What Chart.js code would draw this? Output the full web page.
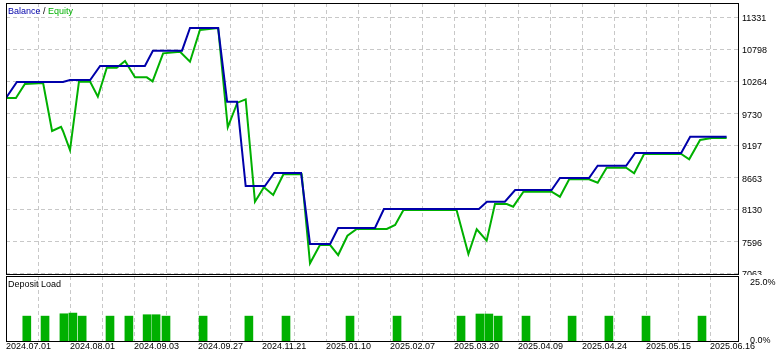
<!DOCTYPE html>
<html>
<head>
<meta charset="utf-8">
<script src="https://cdn.jsdelivr.net/npm/chart.js@4.4.1/dist/chart.umd.min.js"></script>
<style>
  body { margin: 0; background: #fff; }
  #wrap { position: relative; width: 780px; height: 358px; }
  #mainBox { position: absolute; left: 0; top: 0; }
  #loadBox { position: absolute; left: 0; top: 275px; }
</style>
</head>
<body>
<div id="wrap">
  <div id="mainBox"><canvas id="mainChart" width="780" height="275"></canvas></div>
  <div id="loadBox"><canvas id="loadChart" width="780" height="83"></canvas></div>
</div>
<script>
// x = deal position along the test (10 units per grid cell)
const dateLabels = ['2024.07.01', '2024.08.01', '2024.09.03', '2024.09.27', '2024.11.21', '2025.01.10',
    '2025.02.07', '2025.03.20', '2025.04.09', '2025.04.24', '2025.05.15', '2025.06.16'];
const yTicks = [7063, 7596, 8130, 8663, 9197, 9730, 10264, 10798, 11331];
const loadTicks = [0, 25];

const balanceX = [0, 3.4, 17.8, 20, 26.3, 29.4, 43.4, 45.9, 55, 57.5, 66.3, 69.1, 72.2, 74.9, 80.9, 83.8,
    92.2, 95, 101.3, 103.8, 115.3, 118.1, 147.8, 150.3, 155.9, 159.1, 170.5, 173.1, 182.2, 184.9,
    193.8, 196.6, 211, 213.8, 225.2];
const balanceY = [9989, 10256, 10256, 10289, 10289, 10522, 10522, 10778, 10778, 11156, 11156, 9927, 9927,
    8522, 8522, 8739, 8739, 7555, 7555, 7822, 7822, 8138, 8138, 8260, 8260, 8455, 8455, 8655, 8655,
    8860, 8860, 9072, 9072, 9344, 9344];

const equityX = [0, 3.1, 5.9, 11.6, 14.4, 17.2, 17.8, 20, 22.8, 26.3, 28.7, 31.5, 34.6, 37.2, 40.3, 44,
    45.8, 49.1, 54.4, 57.5, 60.6, 66.3, 69.3, 72.3, 74.9, 77.8, 80.6, 83.5, 86.7, 92.4, 95, 98.1,
    101.3, 103.8, 106.7, 109.6, 119, 121.6, 124.2, 140.8, 144.5, 147.1, 150.2, 152.8, 156.5, 158.5,
    161.7, 170.5, 173.1, 176, 182.2, 184.9, 187.7, 193.8, 196.3, 199.4, 211, 213.5, 216.9, 220.5, 225.2];
const equityY = [9989, 9989, 10222, 10239, 9439, 9510, 9439, 9122, 10261, 10261, 10011, 10494, 10494,
    10606, 10334, 10334, 10267, 10734, 10761, 10594, 11123, 11156, 9500, 9911, 9967, 8260, 8500, 8372,
    8717, 8717, 7233, 7538, 7538, 7371, 7693, 7805, 7805, 7872, 8122, 8122, 7388, 7800, 7610, 8222,
    8222, 8177, 8427, 8427, 8343, 8634, 8634, 8577, 8827, 8827, 8734, 9055, 9055, 8967, 9289, 9322, 9322];

const loadX = [6.5, 12.2, 18.1, 20.9, 23.8, 32.5, 38.4, 44.1, 46.9, 50, 61.6, 75.9, 87.5, 107.5, 122.2,
    142.2, 148.1, 150.9, 153.8, 162.5, 176.9, 188.4, 200, 217.5];
const loadY = [10.6, 10.6, 11.6, 11.9, 10.6, 10.6, 10.6, 11.2, 11.2, 10.6, 10.6, 10.6, 10.6, 10.6, 10.6,
    10.6, 11.5, 11.5, 10.6, 10.6, 10.6, 10.6, 10.6, 10.6];

const BLUE = '#0000aa';
const GREEN = '#00b000';
const GRID = '#c8c8c8';
const X_MAX = 228.75;

Chart.defaults.font.family = "'Liberation Sans', Arial, sans-serif";
Chart.defaults.font.size = 9;
Chart.defaults.color = '#000';

// black frame round the plot area
const framePlugin = {
    id: 'frame',
    afterDraw(chart) {
        const { ctx, chartArea: a } = chart;
        ctx.save();
        ctx.strokeStyle = '#000';
        ctx.lineWidth = 1;
        ctx.strokeRect(Math.round(a.left) + 0.5, Math.round(a.top) + 0.5,
            Math.round(a.right - a.left), Math.round(a.bottom - a.top));
        ctx.restore();
    }
};

// coloured caption in the top left corner
const captionPlugin = {
    id: 'caption',
    afterDraw(chart, args, opts) {
        const ctx = chart.ctx;
        ctx.save();
        ctx.font = "9px 'Liberation Sans', Arial, sans-serif";
        ctx.textBaseline = 'middle';
        let x = opts.x;
        opts.parts.forEach(p => {
            ctx.fillStyle = p.color;
            ctx.fillText(p.text, x, opts.y);
            x += ctx.measureText(p.text).width;
        });
        ctx.restore();
    }
};

// no extra room for half labels at the ends of an axis
function fitAxis(size) {
    return s => {
        if (s.isHorizontal()) s.height = size; else s.width = size;
        s.paddingTop = 0;
        s.paddingBottom = 0;
        s.paddingLeft = 0;
        s.paddingRight = 0;
    };
}

const xGrid = { color: GRID, lineWidth: 1, drawTicks: false, offset: false };

new Chart(document.getElementById('mainChart'), {
    type: 'line',
    data: {
        datasets: [
            {
                label: 'Balance',
                data: balanceX.map((x, i) => ({ x, y: balanceY[i] })),
                borderColor: BLUE,
                borderWidth: 2,
                pointRadius: 0,
                tension: 0
            },
            {
                label: 'Equity',
                data: equityX.map((x, i) => ({ x, y: equityY[i] })),
                borderColor: GREEN,
                borderWidth: 2,
                pointRadius: 0,
                tension: 0
            }
        ]
    },
    options: {
        responsive: false,
        animation: false,
        layout: { autoPadding: false, padding: { left: 6, top: 3, right: 0, bottom: 1.5 } },
        scales: {
            x: {
                type: 'linear',
                min: 0,
                max: X_MAX,
                offset: false,
                ticks: { display: false, stepSize: 10, includeBounds: false },
                grid: xGrid,
                border: { display: false, dash: [4, 3] },
                afterFit: fitAxis(0)
            },
            y: {
                position: 'right',
                min: 7063,
                max: 11573,
                afterBuildTicks: s => { s.ticks = yTicks.map(v => ({ value: v })); },
                ticks: { padding: 4, labelOffset: 1.5, callback: v => String(v) },
                grid: { color: GRID, lineWidth: 1, drawTicks: false },
                border: { display: false, dash: [4, 3] },
                afterFit: fitAxis(42)
            }
        },
        plugins: {
            legend: { display: false },
            tooltip: { enabled: false },
            caption: {
                x: 8, y: 12,
                parts: [
                    { text: 'Balance', color: BLUE },
                    { text: ' / ', color: '#000' },
                    { text: 'Equity', color: GREEN }
                ]
            }
        }
    },
    plugins: [framePlugin, captionPlugin]
});

new Chart(document.getElementById('loadChart'), {
    type: 'bar',
    data: {
        datasets: [{
            label: 'Deposit Load',
            data: loadX.map((x, i) => ({ x, y: loadY[i] })),
            backgroundColor: GREEN,
            borderWidth: 0,
            barThickness: 8
        }]
    },
    options: {
        responsive: false,
        animation: false,
        layout: { autoPadding: false, padding: { left: 6, top: 1, right: 0, bottom: 0 } },
        scales: {
            x: {
                type: 'linear',
                min: 0,
                max: X_MAX,
                offset: false,
                ticks: {
                    stepSize: 10,
                    includeBounds: false,
                    autoSkip: false,
                    maxRotation: 0,
                    align: 'start',
                    padding: 0,
                    callback: v => (v % 20 === 0 ? dateLabels[v / 20] : '')
                },
                grid: xGrid,
                border: { display: false, dash: [4, 3] },
                afterFit: fitAxis(17)
            },
            y: {
                position: 'right',
                min: 0,
                max: 27.7,
                afterBuildTicks: s => { s.ticks = loadTicks.map(v => ({ value: v })); },
                ticks: { padding: 4, callback: v => v.toFixed(1) + '%' },
                grid: { display: false },
                border: { display: false },
                afterFit: fitAxis(42)
            }
        },
        plugins: {
            legend: { display: false },
            tooltip: { enabled: false },
            caption: { x: 8, y: 10, parts: [{ text: 'Deposit Load', color: '#000' }] }
        }
    },
    plugins: [framePlugin, captionPlugin]
});
</script>
</body>
</html>
